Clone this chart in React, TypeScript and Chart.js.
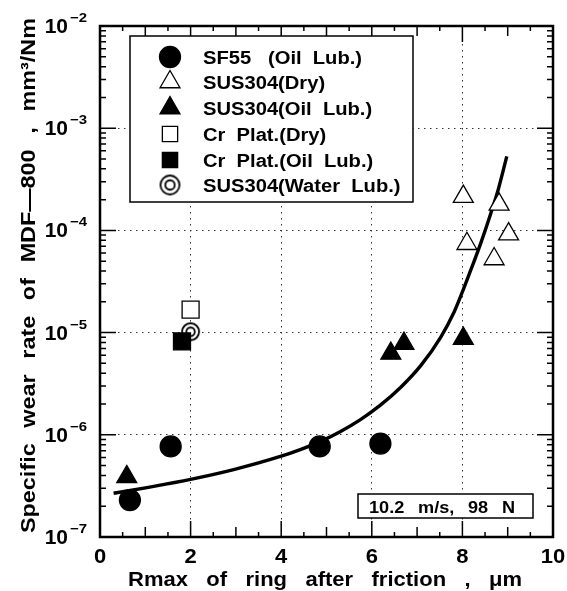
import React, { useEffect, useRef } from 'react';
import { Chart, registerables } from 'chart.js';

Chart.register(...registerables);

// ---- data ----
const sf55X = [0.66, 1.56, 4.85, 6.19];
const sf55Y = [2.3e-7, 7.7e-7, 7.7e-7, 8.2e-7];

const susDryX = [8.02, 8.81, 9.02, 8.1, 8.7];
const susDryY = [2.14e-4, 1.8e-4, 9.2e-5, 7.4e-5, 5.25e-5];

const susOilX = [0.59, 6.42, 6.71, 8.02];
const susOilY = [3.87e-7, 6.25e-6, 7.8e-6, 8.75e-6];

const crDryX = [2.0];
const crDryY = [1.68e-5];

const crOilX = [1.81];
const crOilY = [8.2e-6];

const susWaterX = [2.0];
const susWaterY = [1.02e-5];

const curveX = [0.3, 1.1, 2.0, 2.95, 4.0, 4.42, 4.87, 5.31, 5.75, 6.19, 6.64, 7.08, 7.52, 7.82, 8.0, 8.22, 8.41, 8.63, 8.79, 8.98];
const curveY = [2.68e-7, 3.08e-7, 3.66e-7, 4.56e-7, 6.17e-7, 7.16e-7, 8.63e-7, 1.08e-6, 1.41e-6, 1.95e-6, 2.92e-6, 4.75e-6, 9.0e-6, 1.6e-5, 2.5e-5, 4.5e-5, 7.6e-5, 1.48e-4, 2.5e-4, 5.3e-4];

const legendLabels = [
  'SF55   (Oil  Lub.)',
  'SUS304(Dry)',
  'SUS304(Oil  Lub.)',
  'Cr  Plat.(Dry)',
  'Cr  Plat.(Oil  Lub.)',
  'SUS304(Water  Lub.)',
];
const legendKinds = ['circle', 'triangleOpen', 'triangle', 'rectOpen', 'rect', 'double'];

const xTickValues = [0, 2, 4, 6, 8, 10];
const yTickExponents = [-7, -6, -5, -4, -3, -2];
const xTitleWords = ['Rmax', 'of', 'ring', 'after', 'friction', ',', 'μm'];
const yTitleWords = ['Specific', 'wear', 'rate', 'of', 'MDF—800', ',', 'mm³/Nm'];
const noteWords = ['10.2', 'm/s,', '98', 'N'];

const FONT = "'Liberation Sans', Arial, Helvetica, sans-serif";

function toPts(xs: number[], ys: number[]) {
  return xs.map((x, i) => ({ x, y: ys[i] }));
}

function drawText(ctx: CanvasRenderingContext2D, s: string, x: number, y: number, size: number, align: string, sx = 1.1) {
  ctx.save();
  ctx.font = `bold ${size}px ${FONT}`;
  const w = ctx.measureText(s).width * sx;
  const x0 = align === 'left' ? x : align === 'center' ? x - w / 2 : x - w;
  ctx.translate(x0, y);
  ctx.scale(sx, 1);
  ctx.textAlign = 'left';
  ctx.textBaseline = 'alphabetic';
  ctx.fillStyle = '#000';
  ctx.fillText(s, 0, 0);
  ctx.restore();
  return w;
}

function drawWords(ctx: CanvasRenderingContext2D, words: string[], x: number, y: number, size: number, total: number, sx = 1.1) {
  ctx.save();
  ctx.font = `bold ${size}px ${FONT}`;
  const widths = words.map((w) => ctx.measureText(w).width * sx);
  const sum = widths.reduce((a, b) => a + b, 0);
  const gap = (total - sum) / (words.length - 1);
  ctx.restore();
  let cx = x;
  words.forEach((w, i) => {
    drawText(ctx, w, cx, y, size, 'left', sx);
    cx += widths[i] + gap;
  });
}

function makeDoubleCircle(r: number) {
  const c = document.createElement('canvas');
  const s = Math.ceil(r * 2 + 4);
  c.width = s;
  c.height = s;
  const g = c.getContext('2d')!;
  g.lineWidth = 1.8;
  g.strokeStyle = '#000';
  g.fillStyle = '#fff';
  g.beginPath();
  g.arc(s / 2, s / 2, r, 0, Math.PI * 2);
  g.fill();
  g.stroke();
  g.beginPath();
  g.arc(s / 2, s / 2, r * 0.5, 0, Math.PI * 2);
  g.stroke();
  return c;
}

function drawMarker(ctx: CanvasRenderingContext2D, kind: string, x: number, y: number, r: number, img: HTMLCanvasElement) {
  ctx.save();
  ctx.strokeStyle = '#000';
  ctx.lineWidth = 1.3;
  const open = kind.endsWith('Open');
  ctx.fillStyle = open ? '#fff' : '#000';
  ctx.beginPath();
  if (kind === 'circle') {
    ctx.arc(x, y, r, 0, Math.PI * 2);
  } else if (kind.startsWith('triangle')) {
    ctx.moveTo(x, y - r);
    ctx.lineTo(x + 0.866 * r, y + 0.5 * r);
    ctx.lineTo(x - 0.866 * r, y + 0.5 * r);
    ctx.closePath();
  } else if (kind.startsWith('rect')) {
    const s = r * Math.SQRT1_2;
    ctx.rect(x - s, y - s, 2 * s, 2 * s);
  } else if (kind === 'double') {
    ctx.drawImage(img, x - img.width / 2, y - img.height / 2);
    ctx.restore();
    return;
  }
  ctx.fill();
  ctx.stroke();
  ctx.restore();
}

export default function App() {
  const ref = useRef<HTMLCanvasElement>(null);

  useEffect(() => {
    const canvas = ref.current;
    if (!canvas) return;
    const dbl = makeDoubleCircle(8.5);
    const dblLegend = makeDoubleCircle(9.5);

    const decorations = {
      id: 'decorations',
      afterDraw(chart: any) {
        const ctx: CanvasRenderingContext2D = chart.ctx;
        const xs = chart.scales.x;
        const ys = chart.scales.y;
        const { left, right, top, bottom } = chart.chartArea;
        ctx.save();
        ctx.strokeStyle = '#000';
        // ticks (inside)
        ctx.lineWidth = 1.5;
        ctx.beginPath();
        for (let v = 0.5; v < 10; v += 0.5) {
          const px = xs.getPixelForValue(v);
          const len = Math.abs(v % 2) < 1e-9 ? 16 : Math.abs(v % 1) < 1e-9 ? 10 : 5;
          ctx.moveTo(px, bottom);
          ctx.lineTo(px, bottom - len);
          ctx.moveTo(px, top);
          ctx.lineTo(px, top + len);
        }
        for (let e = -7; e < -2; e++) {
          for (let m = 1; m <= 9; m++) {
            const v = m * Math.pow(10, e);
            const py = ys.getPixelForValue(v);
            const len = m === 1 ? 16 : 6;
            ctx.moveTo(left, py);
            ctx.lineTo(left + len, py);
            ctx.moveTo(right, py);
            ctx.lineTo(right - len, py);
          }
        }
        ctx.stroke();
        // frame
        ctx.lineWidth = 2.5;
        ctx.strokeRect(left, top, right - left, bottom - top);

        // legend box
        ctx.fillStyle = '#fff';
        ctx.lineWidth = 1.5;
        ctx.fillRect(130, 36, 283, 166);
        ctx.strokeRect(130, 36, 283, 166);
        const rowY = [57, 82, 108, 134, 160, 185];
        legendLabels.forEach((lab, i) => {
          const kind = legendKinds[i];
          const r = kind === 'circle' ? 10.5 : kind.startsWith('triangle') ? 11.5 : 10.8;
          drawMarker(ctx, kind, 170, rowY[i], r, dblLegend);
          drawText(ctx, lab, 203, rowY[i] + 7, 18, 'left', 1.12);
        });

        // note box
        ctx.fillStyle = '#fff';
        ctx.lineWidth = 1.5;
        ctx.fillRect(358, 494, 175, 24);
        ctx.strokeRect(358, 494, 175, 24);
        drawWords(ctx, noteWords, 369, 513, 16.5, 146, 1.1);

        // x tick labels
        xTickValues.forEach((v) => {
          drawText(ctx, String(v), xs.getPixelForValue(v), 563, 20, 'center', 1.1);
        });
        // y tick labels
        yTickExponents.forEach((e) => {
          const py = ys.getPixelForValue(Math.pow(10, e));
          drawText(ctx, '10', 68, py + 7, 20, 'right', 1.05);
          drawText(ctx, '−' + String(-e), 70, py - 4, 13, 'left', 1.15);
        });
        // axis titles
        drawWords(ctx, xTitleWords, 128, 586, 20, 394, 1.1);
        ctx.save();
        ctx.translate(35, 533);
        ctx.rotate(-Math.PI / 2);
        drawWords(ctx, yTitleWords, 0, 0, 20.5, 515, 1.14);
        ctx.restore();
        ctx.restore();
      },
    };

    const pointDs = (label: string, xs: number[], ys: number[], style: any, radius: number, fill: string) => ({
      label,
      data: toPts(xs, ys),
      pointStyle: style,
      pointRadius: radius,
      pointBackgroundColor: fill,
      pointBorderColor: '#000',
      pointBorderWidth: 1.3,
      backgroundColor: fill,
      borderColor: '#000',
      showLine: false,
      order: 1,
    });

    const chart = new Chart(canvas, {
      type: 'scatter',
      data: {
        datasets: [
          {
            label: 'fit',
            data: toPts(curveX, curveY),
            showLine: true,
            borderColor: '#000',
            borderWidth: 3.4,
            pointRadius: 0,
            cubicInterpolationMode: 'monotone',
            fill: false,
            order: 10,
          } as any,
          pointDs('SF55 (Oil Lub.)', sf55X, sf55Y, 'circle', 10.5, '#000'),
          pointDs('SUS304(Dry)', susDryX, susDryY, 'triangle', 11.5, '#fff'),
          pointDs('SUS304(Oil Lub.)', susOilX, susOilY, 'triangle', 11.5, '#000'),
          pointDs('Cr Plat.(Dry)', crDryX, crDryY, 'rect', 12, '#fff'),
          pointDs('Cr Plat.(Oil Lub.)', crOilX, crOilY, 'rect', 12, '#000'),
          pointDs('SUS304(Water Lub.)', susWaterX, susWaterY, dbl, 9, '#fff'),
        ],
      },
      options: {
        responsive: false,
        animation: false,
        devicePixelRatio: 1,
        events: [],
        layout: { padding: { left: 100, top: 26, right: 14, bottom: 54 } },
        plugins: { legend: { display: false }, tooltip: { enabled: false } },
        scales: {
          x: {
            type: 'linear',
            min: 0,
            max: 10,
            ticks: { display: false, stepSize: 2 },
            grid: { color: '#333', lineWidth: 1, drawTicks: false },
            border: { display: false, dash: [1.5, 4.5] },
            afterFit: (s: any) => { s.height = 0; },
          },
          y: {
            type: 'logarithmic',
            min: 1e-7,
            max: 1e-2,
            ticks: { display: false },
            afterBuildTicks: (s: any) => {
              s.ticks = yTickExponents.map((e) => ({ value: Math.pow(10, e) }));
            },
            grid: { color: '#333', lineWidth: 1, drawTicks: false },
            border: { display: false, dash: [1.5, 4.5] },
            afterFit: (s: any) => { s.width = 0; },
          },
        },
      } as any,
      plugins: [decorations],
    });
    return () => chart.destroy();
  }, []);

  return (
    <div style={{ position: 'fixed', left: 0, top: 0, width: 567, height: 591, background: '#fff' }}>
      <canvas ref={ref} width={567} height={591} style={{ display: 'block' }} />
    </div>
  );
}
